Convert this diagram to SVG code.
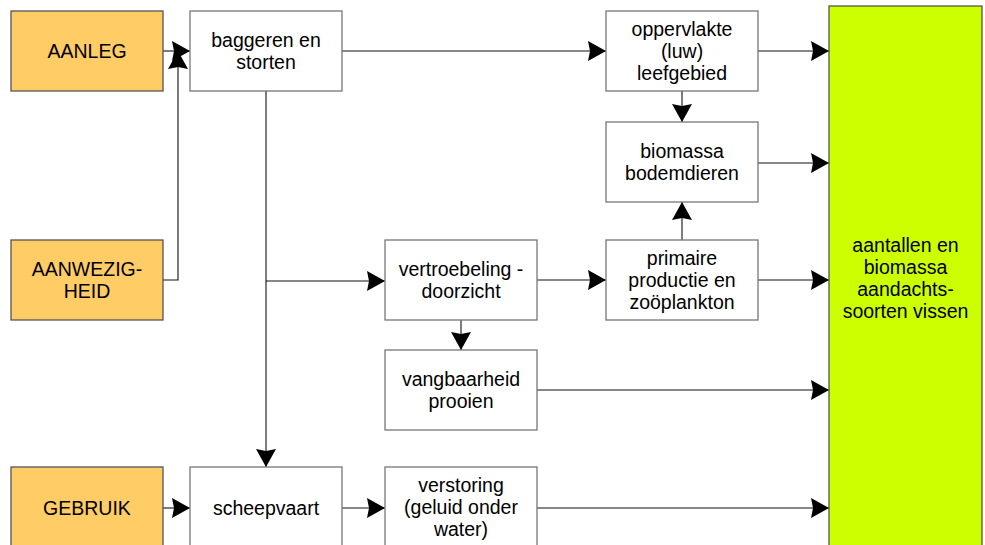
<svg xmlns="http://www.w3.org/2000/svg" width="985" height="545" viewBox="0 0 985 545">
  <style>
    .box { fill: #ffffff; stroke: #777777; stroke-width: 1.3; }
    .src { fill: #ffcc66; stroke: #555555; stroke-width: 1.3; }
    .goal { fill: #ccff00; stroke: #555555; stroke-width: 1.3; }
    .lbl { font-family: "Liberation Sans", Arial, sans-serif; font-size: 19.5px; fill: #000000; text-anchor: middle; }
    .wire { fill: none; stroke: #111111; stroke-width: 1.1; }
  </style>
  <defs>
    <marker id="arrow" markerUnits="userSpaceOnUse" markerWidth="20" markerHeight="22" viewBox="-19 -11 20 22" refX="0" refY="0" orient="auto">
      <path d="M0,0 L-18,-10 L-16,0 L-18,10 Z" fill="#000000"/>
    </marker>
  </defs>

  <!-- connectors -->
  <g id="connectors" class="wire">
    <path d="M163,51 H190" marker-end="url(#arrow)"/>
    <path d="M163,280 H178 V51" marker-end="url(#arrow)"/>
    <path d="M342,51 H606" marker-end="url(#arrow)"/>
    <path d="M266,91 V467" marker-end="url(#arrow)"/>
    <path d="M266,281 H385" marker-end="url(#arrow)"/>
    <path d="M758,51 H829" marker-end="url(#arrow)"/>
    <path d="M682,91 V122" marker-end="url(#arrow)"/>
    <path d="M758,163 H829" marker-end="url(#arrow)"/>
    <path d="M682,240 V202" marker-end="url(#arrow)"/>
    <path d="M537,280 H606" marker-end="url(#arrow)"/>
    <path d="M758,280 H829" marker-end="url(#arrow)"/>
    <path d="M461,320 V350" marker-end="url(#arrow)"/>
    <path d="M537,390 H829" marker-end="url(#arrow)"/>
    <path d="M163,508 H190" marker-end="url(#arrow)"/>
    <path d="M342,508 H385" marker-end="url(#arrow)"/>
    <path d="M537,508 H829" marker-end="url(#arrow)"/>
  </g>

  <!-- sources -->
  <g id="aanleg">
    <rect class="src" x="11" y="11" width="152" height="80"/>
    <text class="lbl" x="87" y="58">AANLEG</text>
  </g>
  <g id="aanwezigheid">
    <rect class="src" x="11" y="240" width="152" height="80"/>
    <text class="lbl" x="87" y="276">AANWEZIG-</text>
    <text class="lbl" x="87" y="298">HEID</text>
  </g>
  <g id="gebruik">
    <rect class="src" x="11" y="467" width="152" height="80"/>
    <text class="lbl" x="87" y="514.5">GEBRUIK</text>
  </g>

  <!-- intermediate effects -->
  <g id="baggeren">
    <rect class="box" x="190" y="11" width="152" height="80"/>
    <text class="lbl" x="266" y="47">baggeren en</text>
    <text class="lbl" x="266" y="69">storten</text>
  </g>
  <g id="scheepvaart">
    <rect class="box" x="190" y="467" width="152" height="80"/>
    <text class="lbl" x="266" y="514.5">scheepvaart</text>
  </g>
  <g id="vertroebeling">
    <rect class="box" x="385" y="240" width="152" height="80"/>
    <text class="lbl" x="461" y="276">vertroebeling -</text>
    <text class="lbl" x="461" y="298">doorzicht</text>
  </g>
  <g id="vangbaarheid">
    <rect class="box" x="385" y="350" width="152" height="80"/>
    <text class="lbl" x="461" y="386">vangbaarheid</text>
    <text class="lbl" x="461" y="408">prooien</text>
  </g>
  <g id="verstoring">
    <rect class="box" x="385" y="467" width="152" height="80"/>
    <text class="lbl" x="461" y="492">verstoring</text>
    <text class="lbl" x="461" y="514">(geluid onder</text>
    <text class="lbl" x="461" y="536">water)</text>
  </g>
  <g id="oppervlakte">
    <rect class="box" x="606" y="11" width="152" height="80"/>
    <text class="lbl" x="682" y="36">oppervlakte</text>
    <text class="lbl" x="682" y="58">(luw)</text>
    <text class="lbl" x="682" y="80">leefgebied</text>
  </g>
  <g id="bodemdieren">
    <rect class="box" x="606" y="122" width="152" height="80"/>
    <text class="lbl" x="682" y="158">biomassa</text>
    <text class="lbl" x="682" y="180">bodemdieren</text>
  </g>
  <g id="primaire">
    <rect class="box" x="606" y="240" width="152" height="80"/>
    <text class="lbl" x="682" y="265">primaire</text>
    <text class="lbl" x="682" y="287">productie en</text>
    <text class="lbl" x="682" y="309">zoöplankton</text>
  </g>

  <!-- target -->
  <g id="vissen">
    <rect class="goal" x="829" y="6" width="153" height="550"/>
    <text class="lbl" x="905.5" y="252">aantallen en</text>
    <text class="lbl" x="905.5" y="274">biomassa</text>
    <text class="lbl" x="905.5" y="296">aandachts-</text>
    <text class="lbl" x="905.5" y="318">soorten vissen</text>
  </g>
</svg>
